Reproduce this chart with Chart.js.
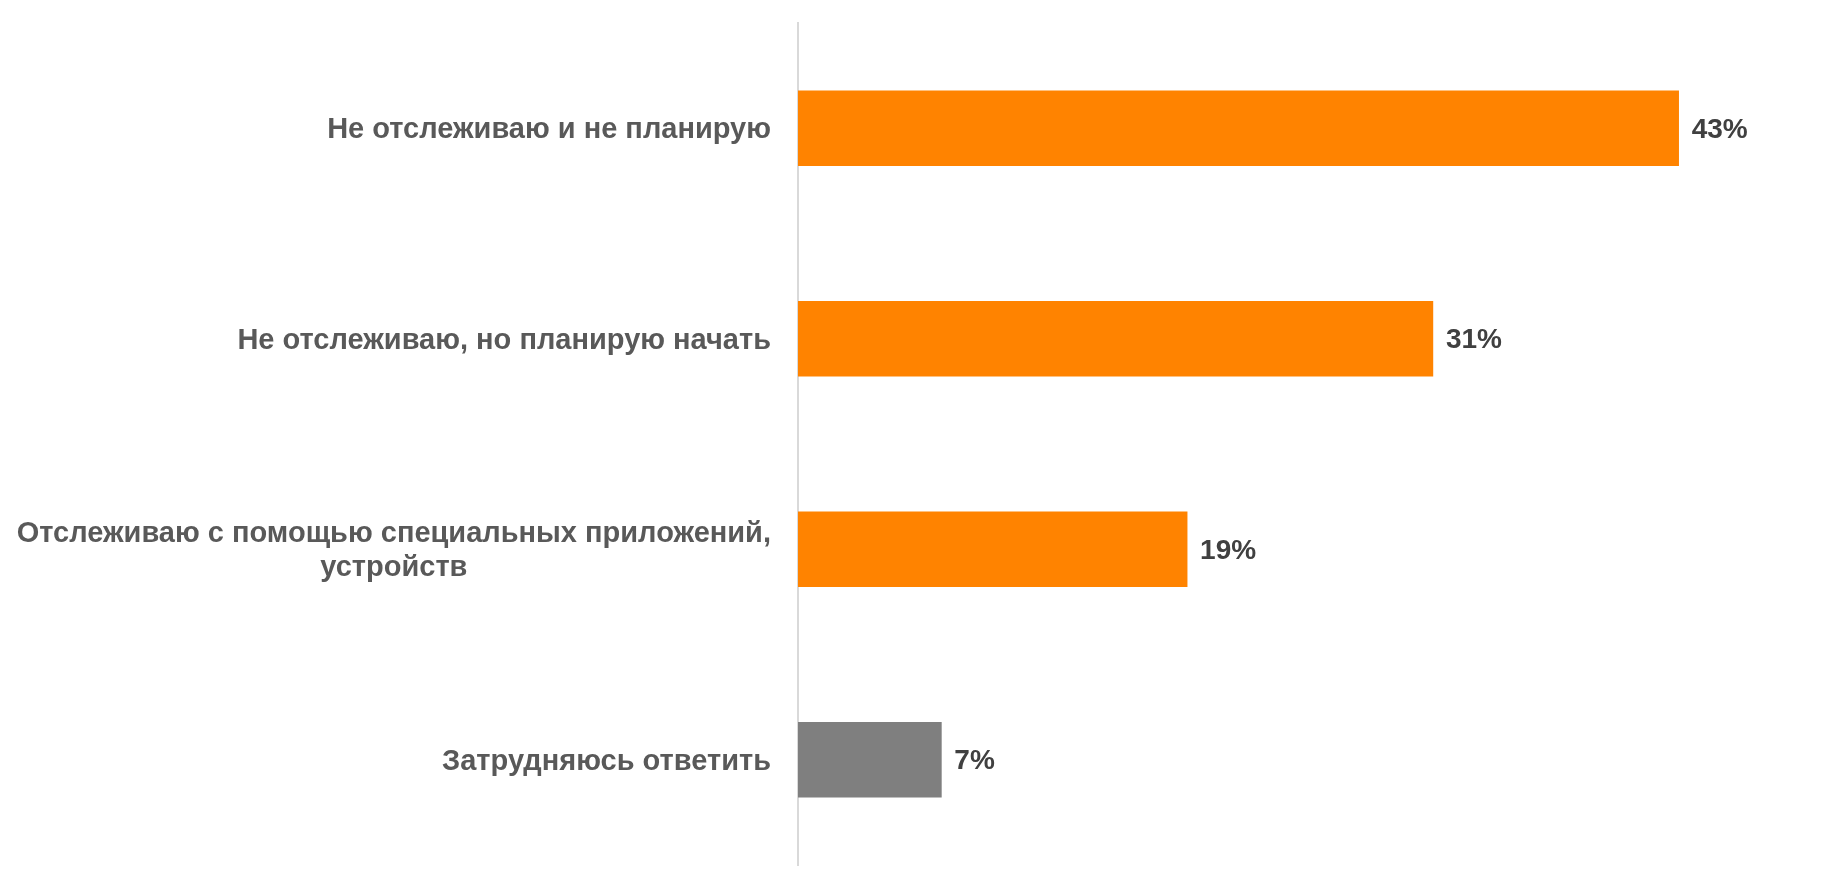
<!DOCTYPE html>
<html lang="ru">
<head>
    <meta charset="UTF-8">
    <title>Отслеживание</title>
    <script src="https://cdn.jsdelivr.net/npm/chart.js"></script>
    <style>
        html, body { margin: 0; padding: 0; background: #fff; }
        #wrap { width: 1845px; height: 889px; position: relative; }
    </style>
</head>
<body>
    <div id="wrap">
        <canvas id="barChart"></canvas>
    </div>

    <script>
        const categories = [
            ['Не отслеживаю и не планирую'],
            ['Не отслеживаю, но планирую начать'],
            ['Отслеживаю с помощью специальных приложений,', 'устройств'],
            ['Затрудняюсь ответить']
        ];
        const values = [43, 31, 19, 7];
        const barColors = ['#FF8300', '#FF8300', '#FF8300', '#7F7F7F'];

        const labelFont = 'bold 29px "Liberation Sans", Arial, sans-serif';
        const AXIS_LEFT = 798;

        // подписи категорий: блок выровнен вправо, строки внутри по центру
        const categoryLabels = {
            id: 'categoryLabels',
            afterDraw(chart) {
                const ctx = chart.ctx;
                const y = chart.scales.y;
                const right = AXIS_LEFT - 27;
                const lineH = 34;
                ctx.save();
                ctx.font = labelFont;
                ctx.fillStyle = '#595959';
                ctx.textBaseline = 'middle';
                ctx.textAlign = 'center';
                categories.forEach((lines, i) => {
                    const cy = y.getPixelForValue(i) + 2;
                    const w = Math.max(...lines.map(l => ctx.measureText(l).width));
                    const cx = right - w / 2;
                    const y0 = cy - (lines.length - 1) * lineH / 2;
                    lines.forEach((l, k) => ctx.fillText(l, cx, y0 + k * lineH));
                });
                ctx.restore();
            }
        };

        // значения справа от столбцов
        const valueLabels = {
            id: 'valueLabels',
            afterDatasetsDraw(chart) {
                const ctx = chart.ctx;
                const meta = chart.getDatasetMeta(0);
                ctx.save();
                ctx.font = 'bold 28px "Liberation Sans", Arial, sans-serif';
                ctx.fillStyle = '#404040';
                ctx.textBaseline = 'middle';
                ctx.textAlign = 'left';
                meta.data.forEach((bar, i) => {
                    ctx.fillText(values[i] + '%', bar.x + 13, bar.y + 2);
                });
                ctx.restore();
            }
        };

        const ctx = document.getElementById('barChart').getContext('2d');

        new Chart(ctx, {
            type: 'bar',
            data: {
                labels: categories,
                datasets: [{
                    data: values,
                    backgroundColor: barColors,
                    barThickness: 75
                }]
            },
            options: {
                indexAxis: 'y',
                responsive: true,
                maintainAspectRatio: false,
                animation: false,
                layout: { padding: { top: 23, bottom: 24, left: 0, right: 23 } },
                plugins: {
                    legend: { display: false },
                    tooltip: { enabled: false }
                },
                scales: {
                    x: {
                        display: false,
                        min: 0,
                        max: 50
                    },
                    y: {
                        grid: { display: false, drawTicks: false },
                        border: { display: true, color: '#D9D9D9', width: 2 },
                        ticks: { display: false },
                        afterFit(scale) {
                            scale.width = AXIS_LEFT;
                        }
                    }
                }
            },
            plugins: [categoryLabels, valueLabels]
        });
    </script>
</body>
</html>
